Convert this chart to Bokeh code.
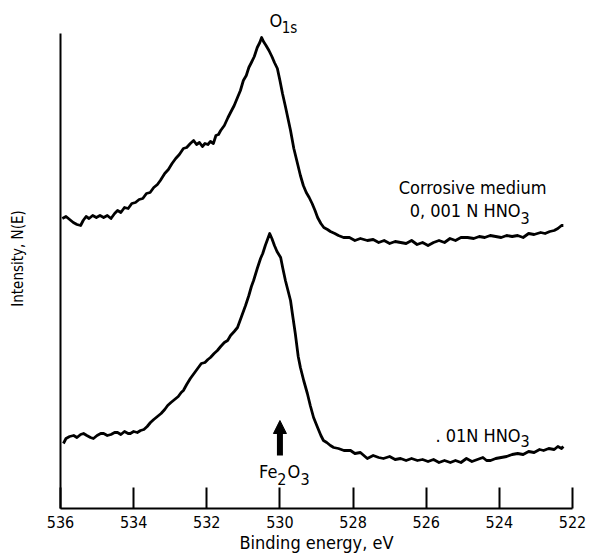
from bokeh.plotting import figure
from bokeh.models import Range1d, FixedTicker, Label, Arrow, NormalHead
from bokeh.embed import file_html
from bokeh.resources import INLINE

# ---- data (binding energy in eV, intensity in arbitrary units) ----
upper_ev = [535.95, 535.85, 535.75, 535.65, 535.55, 535.45, 535.38, 535.30, 535.22, 535.12,
            535.02, 534.92, 534.82, 534.72, 534.62, 534.52, 534.44, 534.35, 534.25, 534.15,
            534.05, 533.95, 533.85, 533.75, 533.65, 533.55, 533.45, 533.35, 533.27, 533.15,
            533.05, 532.95, 532.85, 532.75, 532.64, 532.55, 532.45, 532.36, 532.28, 532.20,
            532.12, 532.05, 531.97, 531.90, 531.82, 531.75, 531.68, 531.62, 531.52, 531.42,
            531.35, 531.25, 531.16, 531.08, 531.00, 530.92, 530.85, 530.78, 530.70, 530.62,
            530.55, 530.50, 530.45, 530.38, 530.30, 530.22, 530.15, 530.07, 530.00, 529.93,
            529.85, 529.78, 529.71, 529.62, 529.52, 529.44, 529.36, 529.28, 529.20, 529.12,
            529.04, 528.97, 528.88, 528.80, 528.70, 528.62, 528.50, 528.40, 528.26, 528.10,
            527.95, 527.80, 527.61, 527.45, 527.30, 527.15, 527.00, 526.85, 526.70, 526.55,
            526.40, 526.25, 526.10, 525.95, 525.80, 525.65, 525.50, 525.35, 525.20, 525.05,
            524.87, 524.70, 524.55, 524.40, 524.25, 524.10, 523.95, 523.80, 523.65, 523.50,
            523.35, 523.20, 523.05, 522.87, 522.75, 522.62, 522.50, 522.40, 522.30, 522.25]
upper_int = [290, 292, 289, 286, 284, 283, 288, 292, 290, 293,
             291, 293, 291, 293, 290, 295, 298, 296, 301, 300,
             305, 306, 309, 310, 315, 316, 321, 324, 328, 335,
             339, 345, 350, 354, 360, 361, 365, 368, 364, 366,
             362, 365, 364, 367, 365, 373, 374, 378, 383, 391,
             396, 403, 411, 418, 428, 433, 441, 446, 452, 461,
             466, 471, 467, 463, 458, 452, 446, 440, 428, 415,
             402, 390, 378, 360, 345, 333, 323, 316, 311, 305,
             298, 291, 285, 281, 279, 277, 275, 273, 271, 271,
             268, 270, 268, 269, 266, 268, 265, 267, 266, 265,
             268, 264, 266, 263, 266, 268, 266, 270, 268, 271,
             271, 270, 272, 271, 273, 272, 271, 273, 272, 273,
             271, 275, 274, 276, 275, 277, 278, 280, 283, 283]

lower_ev = [535.92, 535.85, 535.75, 535.64, 535.55, 535.45, 535.37, 535.28, 535.18, 535.10,
            535.00, 534.90, 534.82, 534.72, 534.62, 534.52, 534.44, 534.35, 534.25, 534.15,
            534.09, 534.00, 533.90, 533.81, 533.72, 533.63, 533.54, 533.45, 533.35, 533.25,
            533.15, 533.07, 532.98, 532.88, 532.78, 532.70, 532.64, 532.55, 532.45, 532.35,
            532.25, 532.15, 532.05, 531.97, 531.90, 531.80, 531.71, 531.62, 531.52, 531.43,
            531.35, 531.25, 531.16, 531.05, 530.94, 530.85, 530.78, 530.72, 530.62, 530.53,
            530.47, 530.40, 530.33, 530.28, 530.22, 530.15, 530.08, 529.98, 529.92, 529.85,
            529.78, 529.71, 529.66, 529.58, 529.50, 529.44, 529.35, 529.25, 529.17, 529.08,
            528.97, 528.88, 528.81, 528.72, 528.62, 528.53, 528.40, 528.25, 528.07, 527.95,
            527.80, 527.61, 527.45, 527.30, 527.17, 527.00, 526.85, 526.70, 526.55, 526.40,
            526.24, 526.10, 525.95, 525.80, 525.65, 525.50, 525.34, 525.20, 525.05, 524.90,
            524.75, 524.60, 524.45, 524.35, 524.24, 524.10, 523.95, 523.80, 523.65, 523.50,
            523.35, 523.20, 523.05, 522.90, 522.79, 522.65, 522.50, 522.40, 522.30, 522.25]
lower_int = [65, 70, 72, 73, 71, 74, 75, 73, 71, 70,
             73, 75, 75, 73, 74, 76, 76, 74, 77, 75,
             75, 77, 76, 78, 79, 82, 86, 89, 92, 95,
             99, 103, 106, 109, 112, 116, 118, 124, 130, 135,
             140, 145, 146, 149, 151, 155, 158, 162, 166, 168,
             173, 177, 181, 192, 203, 213, 222, 228, 240, 250,
             255, 263, 270, 275, 270, 263, 257, 251, 240, 228,
             218, 208, 195, 175, 152, 141, 128, 115, 103, 91,
             81, 73, 68, 66, 63, 61, 60, 58, 58, 55,
             56, 50, 53, 51, 50, 52, 49, 50, 48, 50,
             48, 49, 47, 49, 46, 48, 46, 48, 46, 50,
             47, 49, 51, 48, 48, 50, 51, 52, 54, 55,
             54, 57, 56, 59, 58, 60, 59, 62, 60, 62]

x_ticks = [536, 534, 532, 530, 528, 526, 524, 522]
x_title = "Binding energy, eV"
y_title = "Intensity, N(E)"

FONT = "DejaVu Sans Condensed"

p = figure(frame_width=512, frame_height=500, output_backend="svg", toolbar_location=None,
           x_range=Range1d(536, 522), y_range=Range1d(0, 500),
           min_border_left=60, min_border_right=19, min_border_top=8, min_border_bottom=49)
p.outline_line_color = None
p.grid.visible = False
p.background_fill_color = "white"
p.border_fill_color = "white"

p.line(upper_ev, upper_int, line_color="black", line_width=2.8, line_join="round")
p.line(lower_ev, lower_int, line_color="black", line_width=2.8, line_join="round")

xa = p.xaxis[0]
xa.ticker = FixedTicker(ticks=x_ticks)
xa.major_tick_in = 21
xa.major_tick_out = 0
xa.minor_tick_line_color = None
xa.axis_line_width = 2
xa.major_tick_line_width = 2
xa.axis_line_color = "black"
xa.major_tick_line_color = "black"
xa.major_label_text_font = FONT
xa.major_label_text_font_size = "16px"
xa.major_label_text_color = "black"
xa.major_label_standoff = 7
xa.axis_label = x_title
xa.axis_label_text_font = FONT
xa.axis_label_text_font_size = "18px"
xa.axis_label_text_font_style = "normal"
xa.axis_label_text_color = "black"
xa.axis_label_standoff = 1

ya = p.yaxis[0]
ya.ticker = FixedTicker(ticks=[])
ya.bounds = (0, 475)
ya.major_tick_in = 0
ya.major_tick_out = 0
ya.minor_tick_line_color = None
ya.major_label_standoff = 0
ya.axis_line_width = 2
ya.axis_line_color = "black"
ya.axis_label = y_title
ya.axis_label_text_font = FONT
ya.axis_label_text_font_size = "15px"
ya.axis_label_text_font_style = "normal"
ya.axis_label_text_color = "black"
ya.axis_label_standoff = 34


def lab(x, y, text, size, align="left"):
    p.add_layout(Label(x=x, y=y, text=text, text_font=FONT, text_font_size=size,
                       text_color="black", text_align=align, text_baseline="alphabetic"))


# O1s peak label
lab(530.285, 488, "O", "18px")
lab(529.95, 481, "1s", "15px")

# upper curve annotation
lab(524.73, 321, "Corrosive medium", "18px", "center")
lab(523.42, 298, "0, 001 N HNO", "18px", "right")
lab(523.42, 291, "3", "16px")

# lower curve annotation
lab(523.42, 73, ". 01N HNO", "18px", "right")
lab(523.42, 68, "3", "16px")

# Fe2O3 marker
lab(530.07, 37, "Fe", "18px", "right")
lab(530.07, 30, "2", "16px")
lab(529.79, 37, "O", "18px")
lab(529.44, 30, "3", "16px")

p.add_layout(Arrow(end=NormalHead(size=13, fill_color="black", line_color="black"),
                   x_start=530.0, y_start=53, x_end=530.0, y_end=88,
                   line_width=6, line_color="black"))

open("out.html", "w").write(file_html(p, INLINE))
